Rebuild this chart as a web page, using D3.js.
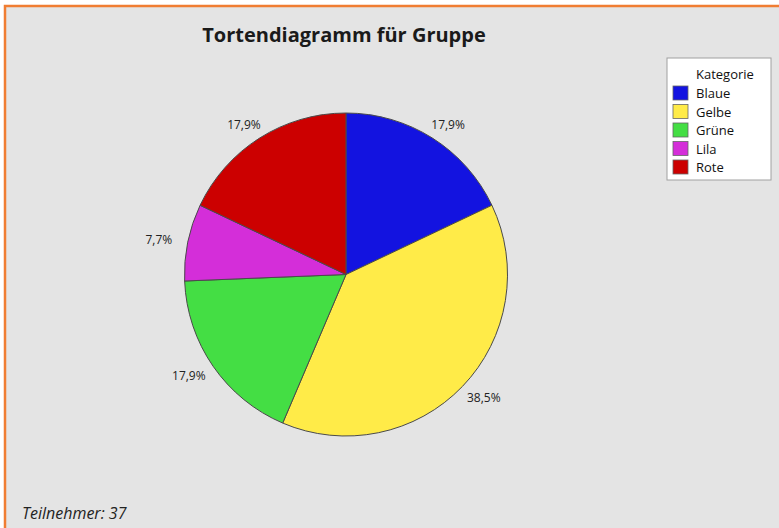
<!DOCTYPE html>
<html>
<head>
<meta charset="utf-8">
<script src="https://cdn.jsdelivr.net/npm/d3@7"></script>
<style>
  body { margin: 0; background: #fff; }
  svg { display: block; font-family: "Open Sans", "Noto Sans", sans-serif; }
</style>
</head>
<body>
<div id="chart"></div>
<script>
// Kategorien und Anzahlen (aus den Prozentwerten abgeleitet)
const categories = ["Blaue", "Gelbe", "Grüne", "Lila", "Rote"];
const counts = [7, 15, 7, 3, 7];
const colors = ["#1313e0", "#ffeb48", "#44de44", "#d42ed9", "#cc0000"];
const title = "Tortendiagramm für Gruppe";
const legendTitle = "Kategorie";
const footnote = "Teilnehmer: 37";

const width = 779, height = 528;
const cx = 346, cy = 274.5, radius = 161.5;
// Labels liegen auf einer Ellipse um den Kreis
const labelRx = 191, labelRy = 177;

const svg = d3.select('#chart').append('svg')
  .attr('width', width)
  .attr('height', height);

// Hintergrund + orangefarbener Rahmen
svg.append('rect')
  .attr('x', 0).attr('y', 0)
  .attr('width', width).attr('height', height)
  .attr('fill', '#fff');
svg.append('rect')
  .attr('x', 5).attr('y', 6)
  .attr('width', width + 10).attr('height', height + 10)
  .attr('fill', '#e4e4e4')
  .attr('stroke', '#f07d32')
  .attr('stroke-width', 2.5);

svg.append('text')
  .attr('x', 344)
  .attr('y', 42)
  .attr('text-anchor', 'middle')
  .attr('font-size', 20)
  .attr('font-weight', 'bold')
  .attr('fill', '#1a1a1a')
  .text(title);

const data = categories.map((c, i) => ({ cat: c, value: counts[i], color: colors[i] }));
const total = d3.sum(counts);

const pie = d3.pie().sort(null).value(d => d.value);
const arc = d3.arc().innerRadius(0).outerRadius(radius);
const arcs = pie(data);

const g = svg.append('g')
  .attr('transform', `translate(${cx},${cy})`);

g.selectAll('path')
  .data(arcs)
  .join('path')
  .attr('d', arc)
  .attr('fill', d => d.data.color)
  .attr('stroke', '#4a4a4a')
  .attr('stroke-width', 1);

const fmt = v => (Math.round(v * 1000) / 10).toFixed(1).replace('.', ',') + '%';

g.selectAll('text.lbl')
  .data(arcs)
  .join('text')
  .attr('class', 'lbl')
  .attr('font-size', 12)
  .attr('fill', '#222')
  .attr('text-anchor', 'middle')
  .attr('dominant-baseline', 'central')
  .attr('x', d => labelRx * Math.sin((d.startAngle + d.endAngle) / 2))
  .attr('y', d => -labelRy * Math.cos((d.startAngle + d.endAngle) / 2))
  .text(d => fmt(d.data.value / total));

// Legende
const legend = svg.append('g').attr('transform', 'translate(667,58)');
legend.append('rect')
  .attr('width', 104).attr('height', 122)
  .attr('fill', '#fff')
  .attr('stroke', '#a0a0a0')
  .attr('stroke-width', 1);
legend.append('text')
  .attr('x', 29).attr('y', 21)
  .attr('font-size', 13)
  .attr('fill', '#111')
  .text(legendTitle);

const rows = legend.selectAll('g.row')
  .data(data)
  .join('g')
  .attr('class', 'row')
  .attr('transform', (d, i) => `translate(6,${28 + i * 18.5})`);
rows.append('rect')
  .attr('width', 15).attr('height', 14)
  .attr('fill', d => d.color)
  .attr('stroke', '#666')
  .attr('stroke-width', 0.8);
rows.append('text')
  .attr('x', 23).attr('y', 12)
  .attr('font-size', 13)
  .attr('fill', '#111')
  .text(d => d.cat);

svg.append('text')
  .attr('x', 22).attr('y', 519)
  .attr('font-size', 16)
  .attr('font-style', 'italic')
  .attr('fill', '#222')
  .text(footnote);
</script>
</body>
</html>
